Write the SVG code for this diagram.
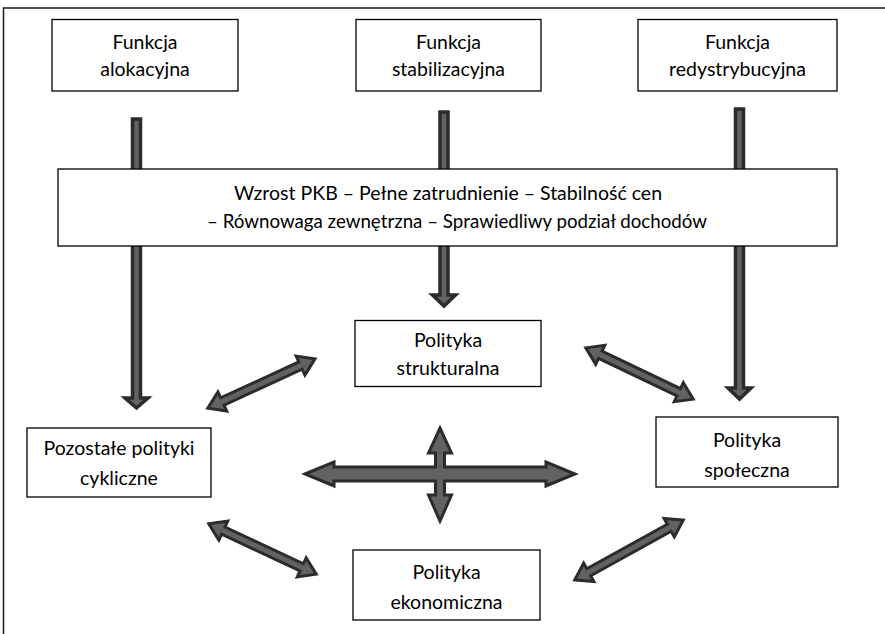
<svg xmlns="http://www.w3.org/2000/svg" width="885" height="634" viewBox="0 0 885 634">
  <style>
    .frame { fill: none; stroke: #1a1a1a; stroke-width: 1.5; }
    .box { fill: #ffffff; stroke: #000000; stroke-width: 1.3; }
    .lbl { font-family: Lato, "Open Sans", "Liberation Sans", sans-serif; font-size: 19.5px; fill: #000000; text-anchor: middle; }
    .arrow { fill: #626262; stroke: #2b2b2b; stroke-linejoin: miter; }
    .thin { stroke-width: 3.5; }
    .dbl { stroke-width: 3; }
  </style>

  <rect class="frame" x="3.5" y="8" width="890" height="640"/>

  <!-- connectors -->
  <g id="connectors">
    <!-- downward arrows from the three functions -->
    <path class="arrow thin" d="M132.5,119 L140.5,119 L140.5,398 L148,398 L136.5,408 L125,398 L132.5,398 Z"/>
    <path class="arrow thin" d="M440,112 L448,112 L448,295 L455.5,295 L444,306 L432.5,295 L440,295 Z"/>
    <path class="arrow thin" d="M735.5,109 L743.5,109 L743.5,388 L751,388 L739.5,399 L728,388 L735.5,388 Z"/>

    <!-- diagonal double arrows (drawn along +x, then rotated into place) -->
    <path class="arrow dbl" d="M2,0 L18,-10.5 L18,-4 L104,-4 L104,-10.5 L120,0 L104,10.5 L104,4 L18,4 L18,10.5 Z" transform="translate(206,409) rotate(-24.68)"/>
    <path class="arrow dbl" d="M2,0 L18,-10.5 L18,-4 L105,-4 L105,-10.5 L121,0 L105,10.5 L105,4 L18,4 L18,10.5 Z" transform="translate(584,347) rotate(25.52)"/>
    <path class="arrow dbl" d="M2,0 L18,-10.5 L18,-4 L104.6,-4 L104.6,-10.5 L120.6,0 L104.6,10.5 L104.6,4 L18,4 L18,10.5 Z" transform="translate(207,523) rotate(25.1)"/>
    <path class="arrow dbl" d="M2,0 L18,-10.5 L18,-4 L110,-4 L110,-10.5 L126,0 L110,10.5 L110,4 L18,4 L18,10.5 Z" transform="translate(573,581) rotate(-28.96)"/>

    <!-- central four-way arrow -->
    <path class="arrow dbl" d="M305,474 L334,462 L334,467 L435.5,467 L435.5,453 L428.5,453 L440,428 L451.5,453 L444.5,453 L444.5,467 L546,467 L546,462 L575,474 L546,486 L546,481 L444.5,481 L444.5,495 L451.5,495 L440,521 L428.5,495 L435.5,495 L435.5,481 L334,481 L334,486 Z"/>
  </g>

  <g id="funkcja-alokacyjna">
    <rect class="box" x="52" y="19.5" width="186" height="71.5"/>
    <text class="lbl" x="145" y="49">Funkcja</text>
    <text class="lbl" x="145" y="76">alokacyjna</text>
  </g>
  <g id="funkcja-stabilizacyjna">
    <rect class="box" x="356" y="19.5" width="185" height="71.5"/>
    <text class="lbl" x="448.5" y="49">Funkcja</text>
    <text class="lbl" x="448.5" y="76">stabilizacyjna</text>
  </g>
  <g id="funkcja-redystrybucyjna">
    <rect class="box" x="638" y="19.5" width="199" height="71.5"/>
    <text class="lbl" x="737.5" y="49">Funkcja</text>
    <text class="lbl" x="737.5" y="76">redystrybucyjna</text>
  </g>

  <g id="cele">
    <rect class="box" x="58" y="169" width="779" height="77"/>
    <text class="lbl" x="448" y="200">Wzrost PKB – Pełne zatrudnienie – Stabilność cen</text>
    <text class="lbl" x="457" y="228" textLength="500" lengthAdjust="spacingAndGlyphs">– Równowaga zewnętrzna – Sprawiedliwy podział dochodów</text>
  </g>

  <g id="polityka-strukturalna">
    <rect class="box" x="355" y="320.5" width="186" height="66"/>
    <text class="lbl" x="448" y="347">Polityka</text>
    <text class="lbl" x="448" y="375">strukturalna</text>
  </g>
  <g id="pozostale-polityki-cykliczne">
    <rect class="box" x="27" y="428" width="184" height="69"/>
    <text class="lbl" x="119" y="455">Pozostałe polityki</text>
    <text class="lbl" x="119" y="485">cykliczne</text>
  </g>
  <g id="polityka-spoleczna">
    <rect class="box" x="656" y="417" width="182" height="70"/>
    <text class="lbl" x="747" y="447">Polityka</text>
    <text class="lbl" x="747" y="477">społeczna</text>
  </g>
  <g id="polityka-ekonomiczna">
    <rect class="box" x="353" y="550" width="187" height="70"/>
    <text class="lbl" x="446.5" y="579">Polityka</text>
    <text class="lbl" x="446.5" y="609">ekonomiczna</text>
  </g>
</svg>
